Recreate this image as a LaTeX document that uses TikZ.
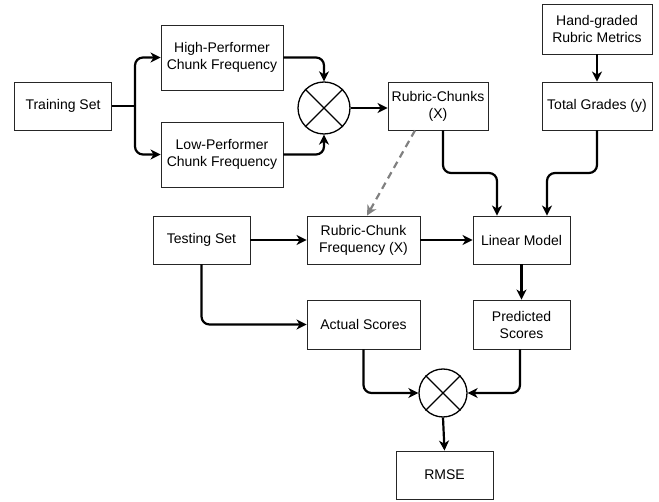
\documentclass[tikz,border=0pt]{standalone}
\usepackage{fontspec}
\setmainfont{Liberation Sans}
\usetikzlibrary{arrows.meta,calc}
\begin{document}
\begin{tikzpicture}[x=1pt,y=-1pt,
  box/.style={draw=black!85, line width=0.9pt, align=center, inner sep=0pt,
    font=\fontsize{14}{17}\selectfont},
  mixer/.style={draw=black, line width=1.3pt, circle, inner sep=0pt},
  conn/.style={line width=2.2pt, rounded corners=8pt, -{Stealth[length=10pt,width=10pt,inset=3pt]}},
  dconn/.style={line width=2.2pt, draw=black!50, dash pattern=on 7pt off 5pt, -{Stealth[length=10pt,width=10pt,inset=3pt]}}]
\useasboundingbox (0,0) rectangle (659,502);
\node[box, minimum width=97pt, minimum height=48pt] (train) at (63,106) {Training Set};
\node[box, minimum width=122pt, minimum height=65pt] (high) at (222,57.5) {High-Performer\\Chunk Frequency};
\node[box, minimum width=122pt, minimum height=65pt] (low) at (222,154.5) {Low-Performer\\Chunk Frequency};
\node[mixer, minimum size=52pt] (mix1) at (324,108) {};
\draw[line width=1.3pt] (mix1.45) -- (mix1.225) (mix1.135) -- (mix1.315);
\node[box, minimum width=100pt, minimum height=48pt] (rc) at (438,106) {Rubric-Chunks\\(X)};
\node[box, minimum width=110pt, minimum height=50pt] (hand) at (597,29) {Hand-graded\\Rubric Metrics};
\node[box, minimum width=110pt, minimum height=48pt] (tg) at (597,106) {Total Grades (y)};
\node[box, minimum width=97pt, minimum height=48pt] (test) at (201.5,240) {Testing Set};
\node[box, minimum width=113pt, minimum height=48pt] (rcf) at (363.5,240) {Rubric-Chunk\\Frequency (X)};
\node[box, minimum width=97pt, minimum height=48pt] (lm) at (521.5,240) {Linear Model};
\node[box, minimum width=113pt, minimum height=49pt] (act) at (363.5,324.5) {Actual Scores};
\node[box, minimum width=97pt, minimum height=49pt] (pred) at (521.5,324.5) {Predicted\\Scores};
\node[mixer, minimum size=48pt] (mix2) at (443,393) {};
\draw[line width=1.3pt] (mix2.45) -- (mix2.225) (mix2.135) -- (mix2.315);
\node[box, minimum width=97pt, minimum height=48pt] (rmse) at (444.5,475) {RMSE};
% connectors
\coordinate (br) at (135,106);
\draw[line width=2.2pt] (train.east) -- (br);
\draw[conn] (br) |- (high.west);
\draw[conn] (br) |- (low.west);
\draw[conn] (high.east) -| (mix1.north);
\draw[conn] (low.east) -| (mix1.south);
\draw[conn] (mix1.east) -- (rc.west |- mix1.east);
\draw[conn] (hand.south) -- (tg.north);
\draw[conn] ([xshift=5pt]rc.south) -- ([xshift=5pt]rc.south |- 0,173) -| ([xshift=-24.5pt]lm.north);
\draw[conn] (tg.south) -- (tg.south |- 0,173) -| ([xshift=25.5pt]lm.north);
\draw[dconn] ([xshift=-23pt]rc.south) -- ([xshift=3.5pt]rcf.north);
\draw[conn] (test.east) -- (rcf.west);
\draw[conn] (rcf.east) -- (lm.west);
\draw[conn] (lm.south) -- (pred.north);
\draw[conn] (test.south) |- (act.west);
\draw[conn] (act.south) |- (mix2.west);
\draw[conn] ([xshift=-1.5pt]pred.south) |- (mix2.east);
\draw[conn] (mix2.south) -- (rmse.north);
\end{tikzpicture}
\end{document}
